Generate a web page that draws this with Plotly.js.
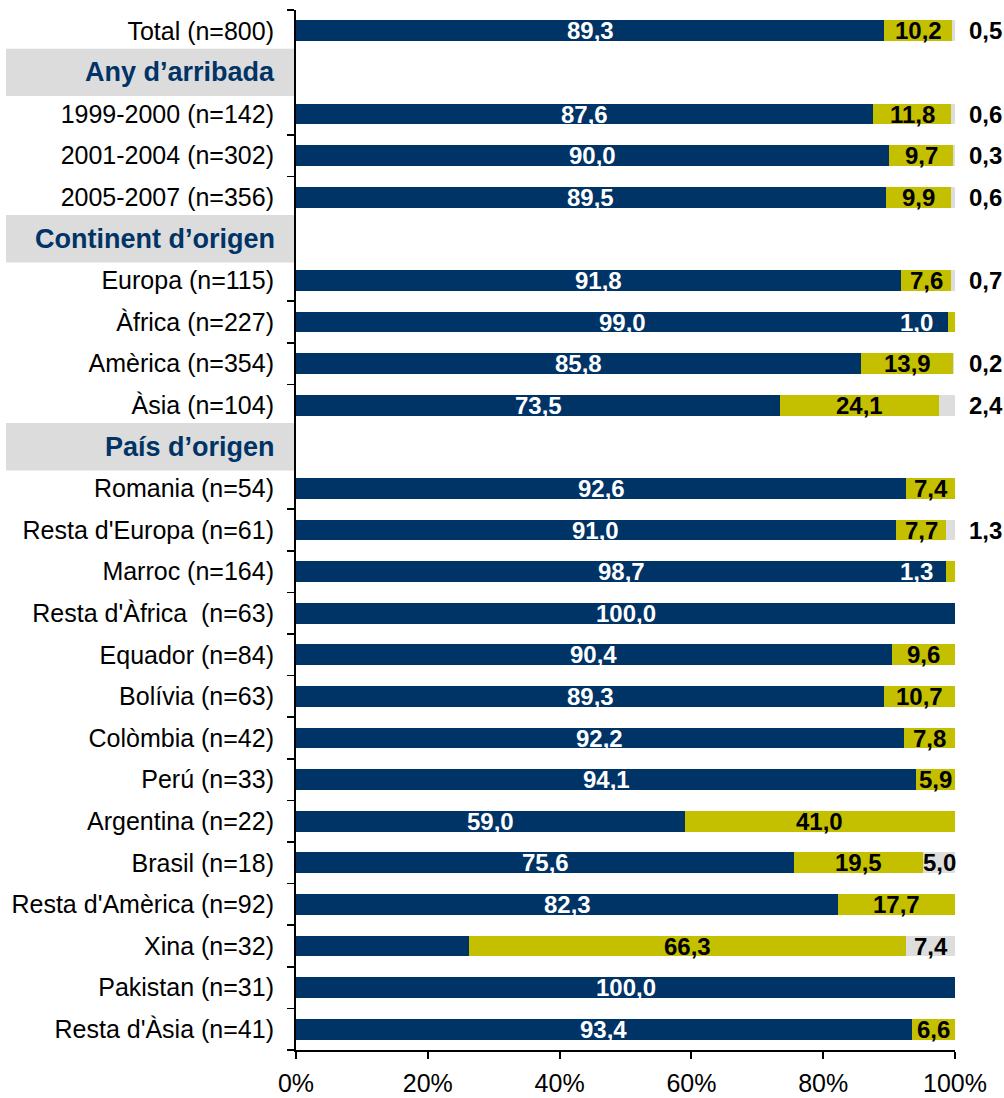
<!DOCTYPE html>
<html>
<head>
<meta charset="utf-8">
<script src="https://cdn.plot.ly/plotly-3.0.1.min.js"></script>
<style>html,body{margin:0;padding:0;background:#fff;}#chart{width:1004px;height:1098px;}</style>
</head>
<body>
<div id="chart"></div>
<script>
const categories = [
  'Total (n=800)', 'Any d’arribada', '1999-2000 (n=142)', '2001-2004 (n=302)', '2005-2007 (n=356)',
  'Continent d’origen', 'Europa (n=115)', 'Àfrica (n=227)', 'Amèrica (n=354)', 'Àsia (n=104)',
  'País d’origen', 'Romania (n=54)', "Resta d'Europa (n=61)", 'Marroc (n=164)', "Resta d'Àfrica  (n=63)",
  'Equador (n=84)', 'Bolívia (n=63)', 'Colòmbia (n=42)', 'Perú (n=33)', 'Argentina (n=22)',
  'Brasil (n=18)', "Resta d'Amèrica (n=92)", 'Xina (n=32)', 'Pakistan (n=31)', "Resta d'Àsia (n=41)"
];
const headers = ['Any d’arribada', 'Continent d’origen', 'País d’origen'];
const blueValues   = [89.3, null, 87.6, 90.0, 89.5, null, 91.8, 99.0, 85.8, 73.5, null, 92.6, 91.0, 98.7, 100.0, 90.4, 89.3, 92.2, 94.1, 59.0, 75.6, 82.3, 26.3, 100.0, 93.4];
const yellowValues = [10.2, null, 11.8, 9.7, 9.9, null, 7.6, 1.0, 13.9, 24.1, null, 7.4, 7.7, 1.3, 0, 9.6, 10.7, 7.8, 5.9, 41.0, 19.5, 17.7, 66.3, 0, 6.6];
const grayValues   = [0.5, null, 0.6, 0.3, 0.6, null, 0.7, 0, 0.2, 2.4, null, 0, 1.3, 0, 0, 0, 0, 0, 0, 0, 5.0, 0, 7.4, 0, 0];
const hiddenBlueLabels = ['Xina (n=32)'];
const xTicks = [0, 20, 40, 60, 80, 100];

const BLUE = '#003366', YELLOW = '#C4C000', GRAY = '#DDDDDD', HEADBOX = '#DCDCDC';
const FONT = 'Liberation Sans, Arial, sans-serif';
const idx = categories.map((c, i) => i);
const fmt = v => v.toFixed(1).replace('.', ',');

const mk = (vals, color, name) => ({
  type: 'bar', orientation: 'h', name: name,
  x: vals, y: idx, width: 0.5,
  marker: {color: color, line: {width: 0}},
  hoverinfo: 'none', showlegend: false
});
const data = [mk(blueValues, BLUE, 'A'), mk(yellowValues, YELLOW, 'B'), mk(grayValues, GRAY, 'C')];

const annotations = [];
const shapes = [];
categories.forEach((c, i) => {
  if (headers.includes(c)) {
    shapes.push({type: 'rect', xref: 'paper', yref: 'y', x0: -0.44, x1: -0.003, y0: i - 0.57, y1: i + 0.57,
      fillcolor: HEADBOX, line: {width: 0}, layer: 'above'});
    annotations.push({xref: 'paper', yref: 'y', x: 0, xshift: -19, y: i, xanchor: 'right', yanchor: 'middle',
      text: '<b>' + c + '</b>', showarrow: false, font: {family: FONT, size: 27, color: BLUE}});
    return;
  }
  const b = blueValues[i], yv = yellowValues[i], g = grayValues[i];
  if (b > 0 && !hiddenBlueLabels.includes(c)) {
    annotations.push({x: b / 2, y: i, text: '<b>' + fmt(b) + '</b>', showarrow: false,
      xanchor: 'center', yanchor: 'middle', font: {family: FONT, size: 24, color: '#FFFFFF'}});
  }
  if (yv > 0) {
    if (yv < 2) {
      annotations.push({x: 100, y: i, xshift: -20, text: '<b>' + fmt(yv) + '</b>', showarrow: false,
        xanchor: 'right', yanchor: 'middle', font: {family: FONT, size: 24, color: '#FFFFFF'}});
    } else {
      annotations.push({x: b + yv / 2, y: i, text: '<b>' + fmt(yv) + '</b>', showarrow: false,
        xanchor: 'center', yanchor: 'middle', font: {family: FONT, size: 24, color: '#000000'}});
    }
  }
  if (g > 0) {
    if (g >= 4) {
      annotations.push({x: b + yv + g / 2, y: i, text: '<b>' + fmt(g) + '</b>', showarrow: false,
        xanchor: 'center', yanchor: 'middle', font: {family: FONT, size: 24, color: '#000000'}});
    } else {
      annotations.push({x: 100, y: i, xshift: 12, text: '<b>' + fmt(g) + '</b>', showarrow: false,
        xanchor: 'left', yanchor: 'middle', font: {family: FONT, size: 24, color: '#000000'}});
    }
  }
});

const labelRows = idx.filter(i => !headers.includes(categories[i]));
const boundaries = categories.concat(['end']).map((c, i) => i - 0.5);

const layout = {
  width: 1004, height: 1098,
  margin: {l: 296, r: 49, t: 10, b: 48, pad: 0},
  paper_bgcolor: '#FFFFFF', plot_bgcolor: '#FFFFFF',
  barmode: 'stack',
  font: {family: FONT, size: 25, color: '#000000'},
  xaxis: {
    range: [0, 100], tickvals: xTicks, ticktext: xTicks.map(v => v + '%'),
    ticks: 'outside', ticklen: 7, tickwidth: 2, tickcolor: '#000', ticklabelstandoff: 3,
    showline: true, linecolor: '#000', linewidth: 2, showgrid: false, zeroline: false,
    tickfont: {family: FONT, size: 25, color: '#000'}, fixedrange: true
  },
  yaxis: {
    range: [24.5, -0.5], tickmode: 'array', tickvals: labelRows, ticktext: labelRows.map(i => categories[i]),
    ticks: '', ticklabelstandoff: 15,
    showline: true, linecolor: '#000', linewidth: 2, showgrid: false, zeroline: false,
    tickfont: {family: FONT, size: 25, color: '#000'},
    minor: {tickvals: boundaries, ticks: 'outside', ticklen: 7, tickwidth: 1.5, tickcolor: '#000', showgrid: false},
    fixedrange: true
  },
  shapes: shapes,
  annotations: annotations
};
Plotly.newPlot('chart', data, layout, {displayModeBar: false, staticPlot: true});
</script>
</body>
</html>
